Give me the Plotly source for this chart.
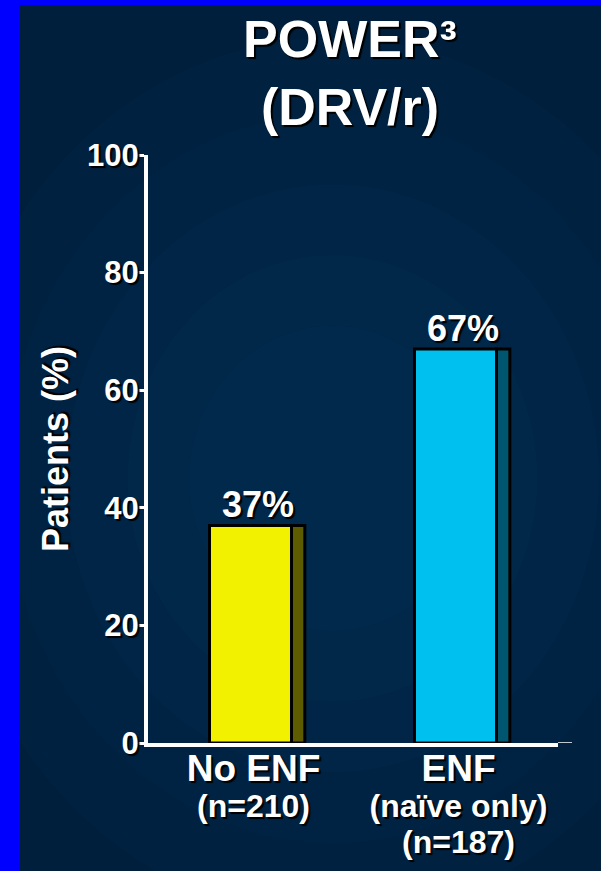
import plotly.graph_objects as go

# ---- data ----
categories = ["No ENF", "ENF"]
sublabels = ["(n=210)", "(naïve only)<br>(n=187)"]
values = [37, 67]
value_labels = ["37%", "67%"]
front_colors = ["#F2F200", "#00C0F0"]
side_colors = ["#5E5C00", "#00566E"]
y_ticks = [0, 20, 40, 60, 80, 100]

FONT = "Arial, Liberation Sans, sans-serif"
SHADOW = "2px 2px 1px #000000"

xpos = list(range(len(categories)))
ticktext = [f"<span style='font-size:37px'>{c}</span><br><span style='font-size:32px'>{s}</span>"
            for c, s in zip(categories, sublabels)]

fig = go.Figure()

# front faces
fig.add_trace(go.Bar(
    x=xpos, y=values, width=0.40, offset=-0.20,
    marker=dict(color=front_colors, line=dict(color="#000000", width=3)),
    showlegend=False, hoverinfo="skip",
))
# side faces (3D effect)
fig.add_trace(go.Bar(
    x=xpos, y=values, width=0.065, offset=0.20,
    marker=dict(color=side_colors, line=dict(color="#000000", width=3)),
    showlegend=False, hoverinfo="skip",
))

# value labels
for x, v, t in zip(xpos, values, value_labels):
    fig.add_annotation(
        x=x, y=v, text=t, showarrow=False, xref="x", yref="y",
        xanchor="center", yanchor="bottom", xshift=7, yshift=-2,
        font=dict(family=FONT, size=36, color="white", weight="bold", shadow=SHADOW),
    )

# background: radial glow + blue border
shapes = []
glow = [(0.95, 0.75, 0.05), (0.80, 0.62, 0.05), (0.65, 0.50, 0.05), (0.50, 0.38, 0.05), (0.35, 0.26, 0.05)]
for rx, ry, op in glow:
    shapes.append(dict(type="circle", xref="paper", yref="paper",
                       x0=0.45 - rx, x1=0.45 + rx, y0=0.45 - ry, y1=0.45 + ry,
                       fillcolor="#0A4A8A", opacity=op, line=dict(width=0), layer="below"))
# left border strip (px 0..20) and top strip (px 0..5)
shapes.append(dict(type="rect", xref="paper", yref="paper",
                   x0=-0.6, x1=(20 - 148) / 410, y0=-0.5, y1=1.5,
                   fillcolor="#0000FF", line=dict(width=0), layer="above"))
shapes.append(dict(type="rect", xref="paper", yref="paper",
                   x0=-0.6, x1=1.5, y0=(743 - 5) / 588, y1=1.5,
                   fillcolor="#0000FF", line=dict(width=0), layer="above"))
# thin extension of the x axis line
shapes.append(dict(type="line", xref="paper", yref="y",
                   x0=1.0, x1=(572 - 148) / 410, y0=0, y1=0,
                   line=dict(color="white", width=1.5)))
fig.update_layout(shapes=shapes)

fig.update_layout(
    width=601, height=871,
    margin=dict(l=148, r=43, t=155, b=128, autoexpand=False),
    paper_bgcolor="#001F3D",
    plot_bgcolor="rgba(0,0,0,0)",
    barmode="overlay",
    title=dict(
        text="POWER³<br>(DRV/r)",
        x=350 / 601, xref="container", xanchor="center",
        y=1 - 57 / 871, yref="container", yanchor="top",
        automargin=False,
        font=dict(family=FONT, size=52, color="white", weight="bold", shadow=SHADOW),
    ),
    xaxis=dict(
        range=[-0.5, 1.5], tickvals=xpos, ticktext=ticktext, automargin=False,
        showgrid=False, zeroline=False, showline=True, linecolor="white", linewidth=4,
        ticks="", ticklabelshift=3,
        tickfont=dict(family=FONT, size=28, color="white", weight="bold", shadow=SHADOW),
        fixedrange=True,
    ),
    yaxis=dict(
        range=[0, 100], tickvals=y_ticks, showgrid=False, zeroline=False, automargin=False,
        showline=True, linecolor="white", linewidth=4,
        ticks="outside", ticklen=6, tickwidth=3, tickcolor="white", ticklabelstandoff=-7,
        tickfont=dict(family=FONT, size=31, color="white", weight="bold", shadow=SHADOW),
        title=dict(text="Patients (%)", standoff=8,
                   font=dict(family=FONT, size=36, color="white", weight="bold", shadow=SHADOW)),
        fixedrange=True,
    ),
)

fig.write_html("out.html")
